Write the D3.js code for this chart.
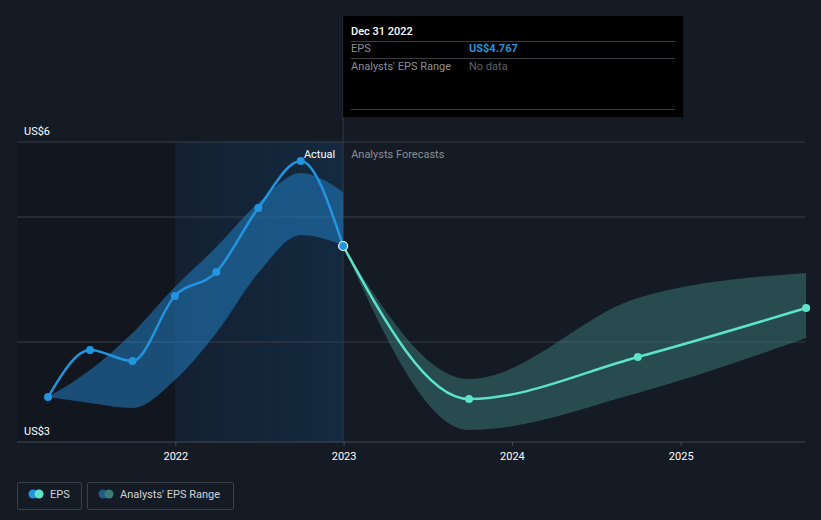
<!DOCTYPE html>
<html><head><meta charset="utf-8">
<script src="https://cdn.jsdelivr.net/npm/d3@7/dist/d3.min.js"></script>
<style>
html,body{margin:0;padding:0;background:#151b24;}
svg{display:block;font-family:Roboto,"Open Sans",sans-serif;}
</style></head><body>
<svg id="c" width="821" height="520"></svg>
<script>
// ---- data ----
const actualDates = ["2021-03-31","2021-06-30","2021-09-30","2021-12-31","2022-03-31","2022-06-30","2022-09-30","2022-12-31"];
const actualEPS = [3.45, 3.92, 3.81, 4.46, 4.70, 5.34, 5.81, 4.96];
const actualRangeHigh = [3.45, 3.72, 4.09, 4.55, 4.95, 5.39, 5.69, 5.50];
const actualRangeLow  = [3.45, 3.39, 3.34, 3.62, 4.09, 4.69, 5.07, 4.97];
const forecastDates = ["2022-12-31","2023-09-30","2024-09-30","2025-09-30"];
const forecastEPS = [4.96, 3.43, 3.85, 4.34];
const forecastHigh = [4.96, 3.63, 4.44, 4.69];
const forecastLow  = [4.96, 3.12, 3.49, 4.04];
const gridValues = [6, 5.25, 4, 3];
const yLabels = [6, 3];
const xTicks = ["2022-01-01","2023-01-01","2024-01-01","2025-01-01"];
const tooltipDate = "Dec 31 2022";
const tooltipEPS = "US$4.767";

const parse = d3.timeParse("%Y-%m-%d");
const svg = d3.select("#c");
const L = 17, R = 805, T = 142, B = 442;
const x = d3.scaleTime().domain([parse("2021-01-01"), parse("2026-01-01")]).range([7, 849]);
const y = d3.scaleLinear().domain([3, 6]).range([B, T]);
const xNow = x(parse("2022-12-31"));
const xPastStart = x(parse("2022-01-01"));

const defs = svg.append("defs");
const g1 = defs.append("linearGradient").attr("id","hl").attr("x1",0).attr("x2",1).attr("y1",0).attr("y2",0);
g1.append("stop").attr("offset","0").attr("stop-color","#142030");
g1.append("stop").attr("offset","1").attr("stop-color","#132a40");

// left darker region
svg.append("rect").attr("x",L).attr("y",T).attr("width",xPastStart-L).attr("height",B-T).attr("fill","#12171f");
svg.append("rect").attr("x",xPastStart).attr("y",T).attr("width",xNow-xPastStart).attr("height",B-T).attr("fill","url(#hl)");

// grid
svg.selectAll(".grid").data(gridValues).enter().append("line")
  .attr("x1",L).attr("x2",R).attr("y1",d=>y(d)).attr("y2",d=>y(d))
  .attr("stroke",d=>d===3?"#454b55":"#383e48").attr("stroke-width",1);

// y labels
svg.selectAll(".yl").data(yLabels).enter().append("text")
  .attr("x",24).attr("y",d=>y(d)-7).attr("fill","#ffffff").attr("font-size",11)
  .text(d=>"US$"+d);

// x axis
const xa = svg.append("g").attr("transform",`translate(0,${B})`)
  .call(d3.axisBottom(x).tickValues(xTicks.map(parse)).tickFormat(d3.timeFormat("%Y")).tickSize(4).tickPadding(6));
xa.select(".domain").remove();
xa.selectAll("line").attr("stroke","#454b55");
xa.selectAll("text").attr("fill","#ffffff").attr("font-size",11).attr("font-family","Roboto,sans-serif");

// vertical now line
svg.append("line").attr("x1",xNow).attr("x2",xNow).attr("y1",16).attr("y2",B).attr("stroke","#2d3846").attr("stroke-width",1);

// bands
const pastData = actualDates.map((d,i)=>({d:parse(d),v:actualEPS[i],hi:actualRangeHigh[i],lo:actualRangeLow[i]}));
const fcData = forecastDates.map((d,i)=>({d:parse(d),v:forecastEPS[i],hi:forecastHigh[i],lo:forecastLow[i]}));
const area = d3.area().x(d=>x(d.d)).y0(d=>y(d.lo)).y1(d=>y(d.hi)).curve(d3.curveMonotoneX);
svg.append("path").datum(pastData).attr("d",area).attr("fill","#2185d0").attr("fill-opacity",0.5);
svg.append("path").datum(fcData).attr("d",area).attr("fill","#3a7c78").attr("fill-opacity",0.5);

// lines
const line = d3.line().x(d=>x(d.d)).y(d=>y(d.v)).curve(d3.curveMonotoneX);
svg.append("path").datum(pastData).attr("d",line).attr("fill","none").attr("stroke","#2394df").attr("stroke-width",2.5);
svg.append("path").datum(fcData).attr("d",line).attr("fill","none").attr("stroke","#5de3c9").attr("stroke-width",2.5);

// points
svg.selectAll(".pp").data(pastData.slice(0,-1)).enter().append("circle")
  .attr("cx",d=>x(d.d)).attr("cy",d=>y(d.v)).attr("r",4).attr("fill","#2394df");
svg.selectAll(".fp").data(fcData.slice(1)).enter().append("circle")
  .attr("cx",d=>x(d.d)).attr("cy",d=>y(d.v)).attr("r",4).attr("fill","#5de3c9");
svg.append("circle").attr("cx",x(pastData[7].d)).attr("cy",y(pastData[7].v)).attr("r",4.5)
  .attr("fill","#2394df").attr("stroke","#ffffff").attr("stroke-width",1.2);

// section labels
svg.append("text").attr("x",xNow-8).attr("y",158).attr("text-anchor","end").attr("fill","#ffffff").attr("font-size",11).text("Actual");
svg.append("text").attr("x",xNow+8).attr("y",158).attr("fill","#8a8f96").attr("font-size",11).text("Analysts Forecasts");

// tooltip
const tt = svg.append("g");
tt.append("rect").attr("x",xNow).attr("y",16).attr("width",340).attr("height",101).attr("fill","#000000");
tt.append("text").attr("x",351).attr("y",35).attr("fill","#ffffff").attr("font-size",11).attr("font-weight",500).text(tooltipDate);
[41,58,109].forEach(yy=>tt.append("line").attr("x1",351).attr("x2",675).attr("y1",yy+0.5).attr("y2",yy+0.5).attr("stroke","#3a3d42"));
tt.append("text").attr("x",351).attr("y",52).attr("fill","#8a8f96").attr("font-size",11).text("EPS");
tt.append("text").attr("x",469).attr("y",52).attr("fill","#2394df").attr("font-size",11).attr("font-weight",700).text(tooltipEPS);
tt.append("text").attr("x",351).attr("y",70).attr("fill","#8a8f96").attr("font-size",11).text("Analysts' EPS Range");
tt.append("text").attr("x",469).attr("y",70).attr("fill","#5f6368").attr("font-size",11).text("No data");

// legend
const lg = svg.append("g");
lg.append("rect").attr("x",17.5).attr("y",482.5).attr("width",64).attr("height",27).attr("rx",2).attr("fill","none").attr("stroke","#3a3f48");
lg.append("circle").attr("cx",33).attr("cy",494).attr("r",4.5).attr("fill","#2394df");
lg.append("circle").attr("cx",39).attr("cy",494).attr("r",4.5).attr("fill","#5de3c9");
lg.append("text").attr("x",50).attr("y",498).attr("fill","#d0d3d8").attr("font-size",11).text("EPS");
lg.append("rect").attr("x",87.5).attr("y",482.5).attr("width",146).attr("height",27).attr("rx",2).attr("fill","none").attr("stroke","#3a3f48");
lg.append("circle").attr("cx",103).attr("cy",494).attr("r",4.5).attr("fill","#1f5a8a");
lg.append("circle").attr("cx",109).attr("cy",494).attr("r",4.5).attr("fill","#3a7c78");
lg.append("text").attr("x",120).attr("y",498).attr("fill","#d0d3d8").attr("font-size",11).text("Analysts' EPS Range");
</script>
</body></html>
